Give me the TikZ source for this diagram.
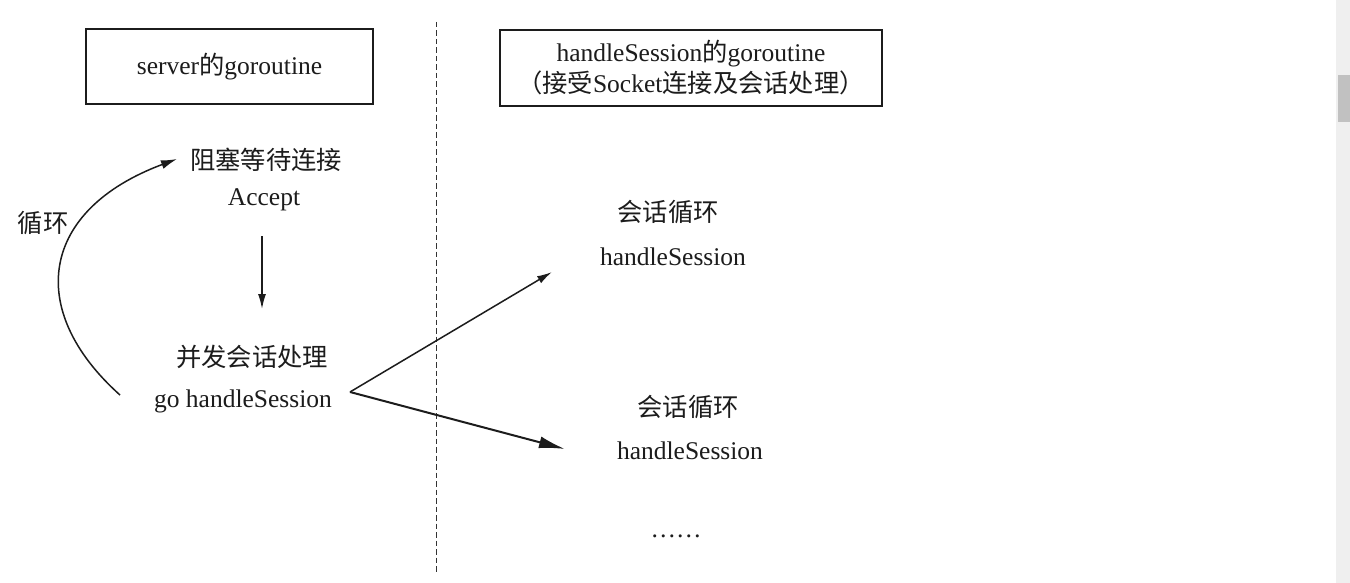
\documentclass[tikz,border=0pt]{standalone}
\usepackage{fontspec}
\setmainfont{Liberation Serif}
\newfontfamily\cjk{Noto Sans CJK SC}
\usetikzlibrary{arrows.meta}
\definecolor{ink}{HTML}{1C1C1C}
\definecolor{dashgray}{HTML}{333333}
\definecolor{sbtrack}{HTML}{EFEFEF}
\definecolor{sbthumb}{HTML}{C1C1C1}
\newcommand{\zh}[1]{{\cjk\fontsize{25.3}{31}\selectfont #1}}
\tikzset{
  lbl/.style={inner sep=0pt, text=ink, font=\fontsize{25.5}{31}\selectfont},
  titlebox/.style={draw=ink, line width=2pt, inner sep=0pt, text=ink,
    font=\fontsize{25.5}{31}\selectfont, align=center},
  conn/.style={draw=ink, line width=1.5pt},
  thinhead/.style={-{Latex[length=15pt,width=8pt]}},
  bighead/.style={-{Latex[length=26pt,width=12pt]}},
}
\begin{document}
\begin{tikzpicture}[x=1pt,y=-1pt]
\useasboundingbox[fill=white] (0,0) rectangle (1350,583);
% scrollbar
\fill[sbtrack] (1336,0) rectangle (1350,583);
\fill[sbthumb] (1338,75) rectangle (1350,122);
% divider
\draw[dashgray, line width=1.9pt, dash pattern=on 5.5pt off 3pt] (436.5,22) -- (436.5,573);
% title boxes
\node[titlebox, minimum width=287pt, minimum height=75pt] (srv) at (229.5,66.5)
  {server\zh{的}goroutine};
\node[titlebox, minimum width=382pt, minimum height=76pt] (hsb) at (691,68)
  {handleSession\zh{的}goroutine\\\zh{（接受}Socket\zh{连接及会话处理）}};
% left column texts
\node[lbl] (block) at (266,160) {\zh{阻塞等待连接}};
\node[lbl] (acc) at (264,200) {Accept};
\node[lbl] (conc) at (252,357) {\zh{并发会话处理}};
\node[lbl] (gohs) at (243,401) {go handleSession};
\node[lbl] (loop) at (43,223) {\zh{循环}};
% right column texts
\node[lbl] (s1a) at (668,212) {\zh{会话循环}};
\node[lbl] (s1b) at (673,257) {handleSession};
\node[lbl] (s2a) at (688,407) {\zh{会话循环}};
\node[lbl] (s2b) at (690,451) {handleSession};
\node[lbl] (more) at (676,536) {……};
% connector end points
\coordinate (accbot) at (262,236);
\coordinate (conctop) at (262,309);
\coordinate (arcstart) at (120,395);
\coordinate (arcend) at (177,159);
\coordinate (fan) at (350,392);
\coordinate (fan1) at (552,272);
\coordinate (fan2) at (565,449);
% connectors
\draw[conn, thinhead] (accbot) -- (conctop);
\draw[conn, -{Latex[length=16pt,width=9pt]}] (arcstart) .. controls (25,310) and (40,210) .. (arcend);
\draw[conn, thinhead] (fan) -- (fan1);
\draw[conn, line width=2pt, bighead] (fan) -- (fan2);
\end{tikzpicture}
\end{document}
